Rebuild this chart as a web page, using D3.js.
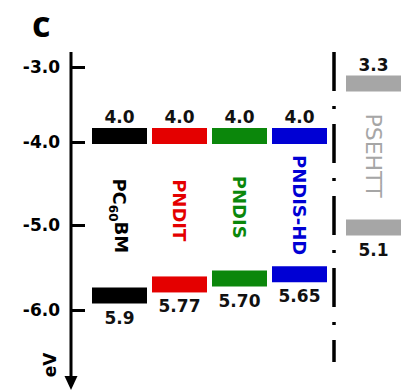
<!DOCTYPE html>
<html lang="en">
<head>
	<meta charset="utf-8">
	<title>Energy levels</title>
	<script src="https://cdn.jsdelivr.net/npm/d3@7"></script>
	<style>
		body { margin: 0; background: #fff; }
		text { font-family: "DejaVu Sans", sans-serif; font-weight: bold; }
	</style>
</head>
<body>
	<script>
		// energy levels (eV)
		var acceptors = ["PC60BM", "PNDIT", "PNDIS", "PNDIS-HD"];
		var accLumo = [-4.0, -4.0, -4.0, -4.0];
		var accHomo = [-5.9, -5.77, -5.70, -5.65];
		var accLumoText = ["4.0", "4.0", "4.0", "4.0"];
		var accHomoText = ["5.9", "5.77", "5.70", "5.65"];
		var accColors = ["#000000", "#e40000", "#0b870b", "#0000d4"];

		var donor = ["PSEHTT"];
		var donLumo = [-3.3];
		var donHomo = [-5.1];
		var donLumoText = ["3.3"];
		var donHomoText = ["5.1"];
		var donColor = "#a6a6a6";

		var tickValues = [-3.0, -4.0, -5.0, -6.0];

		var w = 406, h = 390;
		var barH = 16;

		var svg = d3.select("body").append("svg")
			.attr("width", w)
			.attr("height", h);

		// the drawn axis is not evenly spaced, so piecewise scale
		var y = d3.scaleLinear()
			.domain(tickValues)
			.range([67, 142, 225, 310]);

		var x = d3.scaleBand()
			.domain(acceptors)
			.range([92, 327])
			.paddingInner(0.0833)
			.paddingOuter(0);

		var xd = d3.scaleBand()
			.domain(donor)
			.range([346, 401]);

		var axisX = 71;

		// panel letter
		svg.append("text")
			.attr("x", 32)
			.attr("y", 37)
			.style("font-family", "'Open Sans', sans-serif")
			.style("font-size", "36px")
			.text("c");

		// axis
		var axis = d3.axisLeft(y)
			.tickValues(tickValues)
			.tickSize(-14)
			.tickPadding(11)
			.tickFormat(function (d) { return d.toFixed(1); });

		var gAxis = svg.append("g")
			.attr("transform", "translate(" + axisX + ",0)")
			.call(axis);
		gAxis.select(".domain").remove();
		gAxis.selectAll(".tick line").attr("stroke", "#000").attr("stroke-width", 3);
		gAxis.selectAll(".tick text")
			.attr("fill", "#000")
			.style("font-family", "'DejaVu Sans', sans-serif")
			.style("font-weight", "bold")
			.style("font-size", "17px");

		svg.append("line")
			.attr("x1", axisX).attr("x2", axisX)
			.attr("y1", 52).attr("y2", 378)
			.attr("stroke", "#000")
			.attr("stroke-width", 3);
		svg.append("path")
			.attr("d", "M" + (axisX - 6.5) + ",376 L" + (axisX + 6.5) + ",376 L" + axisX + ",390 Z")
			.attr("fill", "#000");

		svg.append("text")
			.attr("transform", "translate(56,365) rotate(-90)")
			.attr("text-anchor", "middle")
			.style("font-size", "17px")
			.text("eV");

		// acceptor levels
		function barTop(v) { return y(v) - barH + 2; }

		var acc = acceptors.map(function (d, i) {
			return { name: d, lumo: accLumo[i], homo: accHomo[i],
				lt: accLumoText[i], ht: accHomoText[i], c: accColors[i], x0: x(d), bw: x.bandwidth() };
		});
		var don = donor.map(function (d, i) {
			return { name: d, lumo: donLumo[i], homo: donHomo[i],
				lt: donLumoText[i], ht: donHomoText[i], c: donColor, x0: xd(d), bw: xd.bandwidth() };
		});
		var all = acc.concat(don);

		var g = svg.selectAll("g.mat")
			.data(all)
			.enter()
			.append("g")
			.attr("class", "mat");

		g.append("rect")
			.attr("x", function (d) { return d.x0; })
			.attr("y", function (d) { return barTop(d.lumo); })
			.attr("width", function (d) { return d.bw; })
			.attr("height", barH)
			.attr("fill", function (d) { return d.c; });

		g.append("rect")
			.attr("x", function (d) { return d.x0; })
			.attr("y", function (d) { return barTop(d.homo); })
			.attr("width", function (d) { return d.bw; })
			.attr("height", barH)
			.attr("fill", function (d) { return d.c; });

		g.append("text")
			.attr("text-anchor", "middle")
			.attr("x", function (d) { return d.x0 + d.bw / 2; })
			.attr("y", function (d) { return barTop(d.lumo) - 5; })
			.style("font-size", "17px")
			.attr("fill", "#111")
			.text(function (d) { return d.lt; });

		g.append("text")
			.attr("text-anchor", "middle")
			.attr("x", function (d) { return d.x0 + d.bw / 2; })
			.attr("y", function (d) { return barTop(d.homo) + barH + 20; })
			.style("font-size", "17px")
			.attr("fill", "#111")
			.text(function (d) { return d.ht; });

		// vertical names between the two levels
		var names = g.append("text")
			.attr("transform", function (d) {
				var cy = (barTop(d.lumo) + barH + barTop(d.homo)) / 2;
				return "translate(" + (d.x0 + d.bw / 2) + "," + cy + ") rotate(90)";
			})
			.attr("text-anchor", "middle")
			.attr("dy", "0.36em")
			.attr("fill", function (d) { return d.c; })
			.style("font-size", function (d) { return d.name === "PSEHTT" ? "22px" : "18px"; })
			.style("font-weight", function (d) { return d.name === "PSEHTT" ? "normal" : "bold"; });

		names.each(function (d) {
			var t = d3.select(this);
			if (d.name === "PC60BM") {
				t.append("tspan").text("PC");
				t.append("tspan").attr("dy", "0.3em").style("font-size", "12px").text("60");
				t.append("tspan").attr("dy", "-0.3em").text("BM");
			} else {
				t.text(d.name);
			}
		});

		// dash-dot divider
		svg.append("line")
			.attr("x1", 334).attr("x2", 334)
			.attr("y1", 52).attr("y2", 362)
			.attr("stroke", "#000")
			.attr("stroke-width", 3.5)
			.attr("stroke-dasharray", "39,15,3,15");
	</script>
</body>
</html>
